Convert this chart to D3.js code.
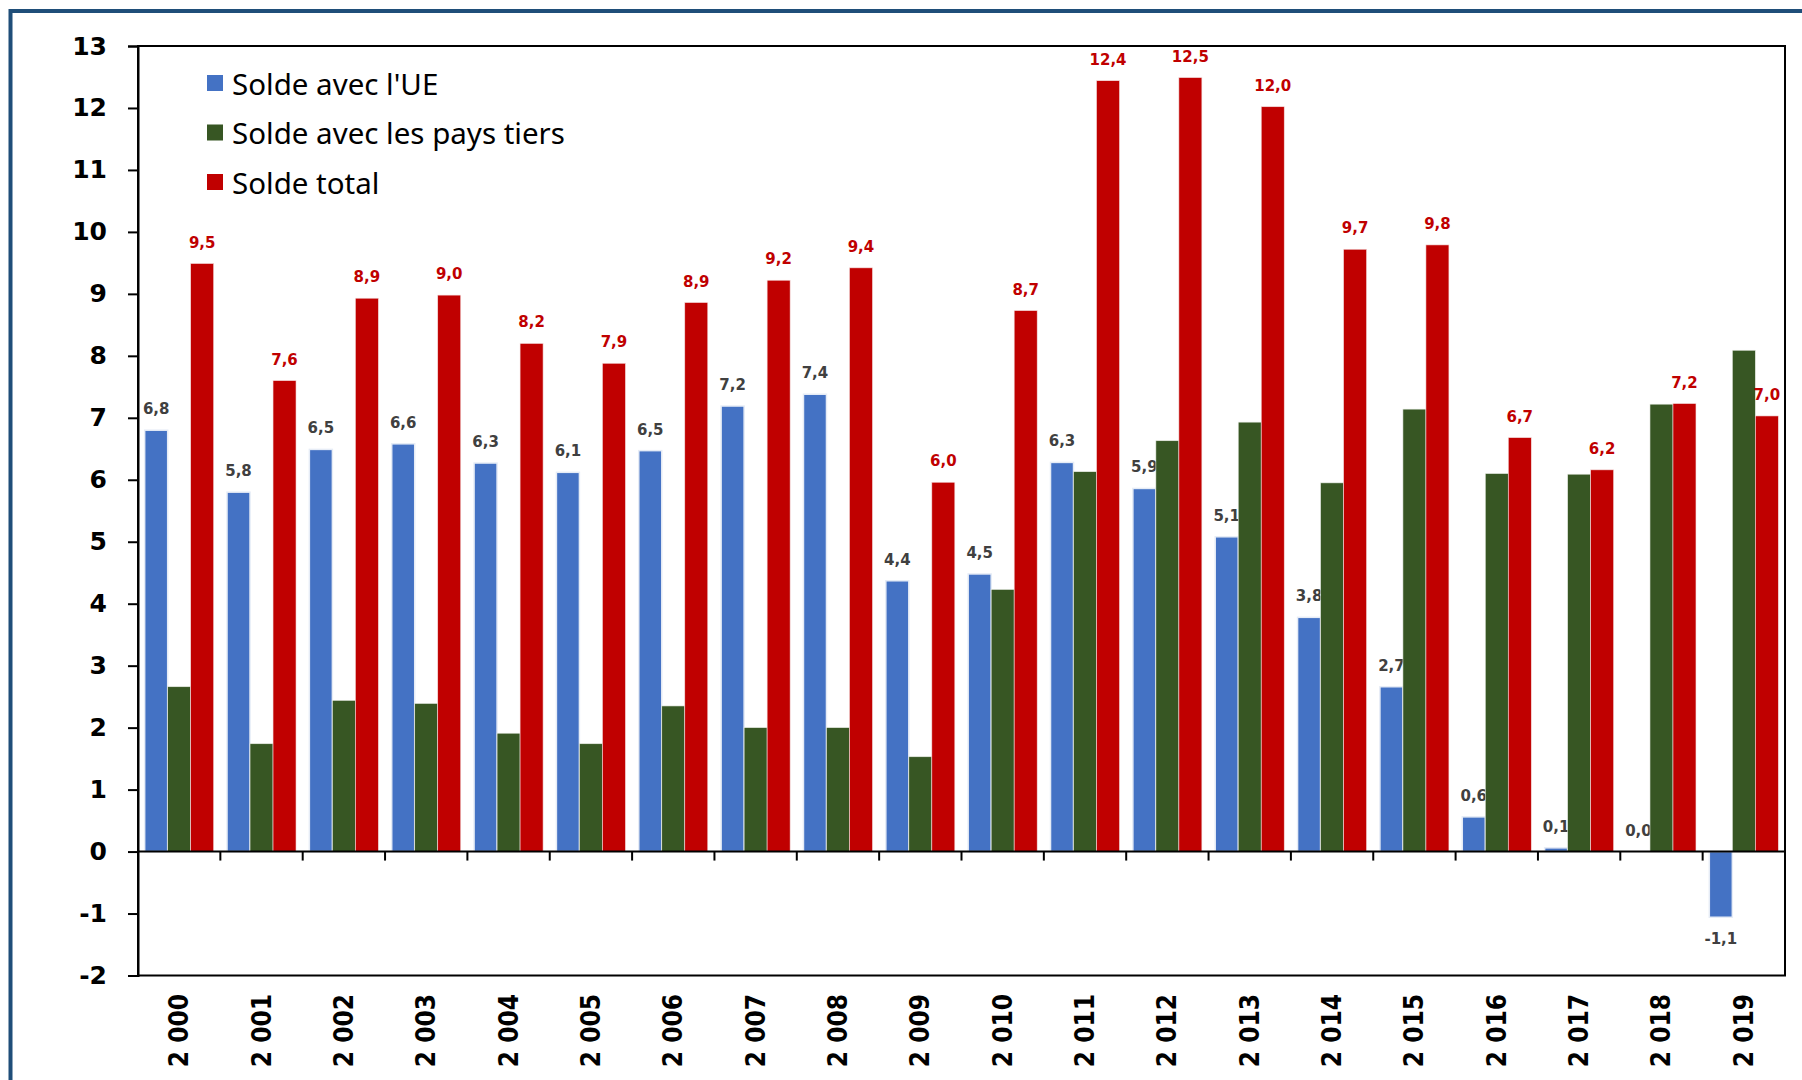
<!DOCTYPE html>
<html>
<head>
<meta charset="utf-8">
<script src="https://cdn.jsdelivr.net/npm/d3@7"></script>
<style>
  body { margin: 0; background: #fff; }
  svg { display: block; }
</style>
</head>
<body>
<div class="canvas"></div>
<script>
// years on the x axis
const years = [2000, 2001, 2002, 2003, 2004, 2005, 2006, 2007, 2008, 2009,
  2010, 2011, 2012, 2013, 2014, 2015, 2016, 2017, 2018, 2019];

// balance with the EU (blue)
const soldeUE = [6.8, 5.8, 6.49, 6.58, 6.27, 6.12, 6.47, 7.19, 7.38, 4.37,
  4.48, 6.28, 5.86, 5.08, 3.78, 2.66, 0.56, 0.06, 0.0, -1.06];

// balance with third countries (green)
const soldeTiers = [2.66, 1.74, 2.44, 2.39, 1.91, 1.74, 2.35, 2.0, 2.0, 1.53,
  4.23, 6.13, 6.63, 6.93, 5.95, 7.14, 6.1, 6.09, 7.22, 8.09];

// total balance (red)
const soldeTotal = [9.49, 7.6, 8.93, 8.98, 8.2, 7.88, 8.86, 9.22, 9.42, 5.96,
  8.73, 12.44, 12.49, 12.02, 9.72, 9.79, 6.68, 6.16, 7.23, 7.03];

// legend names
const seriesNames = ["Solde avec l'UE", "Solde avec les pays tiers", "Solde total"];

// y tick values
const yTicks = d3.range(-2, 14);

const colors = ['#4472c4', '#375623', '#c00000'];

// page and plot area
const dims = { width: 1802, height: 1080 };
const plot = { left: 138, right: 1785, top: 46, bottom: 975.5 };

const svg = d3.select('.canvas')
  .append('svg')
  .attr('width', dims.width)
  .attr('height', dims.height);

// blue frame around the slide (top and left edges)
svg.append('path')
  .attr('d', `M10.5,${dims.height} V11 H${dims.width}`)
  .attr('fill', 'none')
  .attr('stroke', '#1f4e79')
  .attr('stroke-width', 4);

// scales
const x = d3.scaleBand()
  .domain(years)
  .range([plot.left, plot.right])
  .padding(0);

const xSub = d3.scaleBand()
  .domain([0, 1, 2])
  .range([0, x.bandwidth()])
  .paddingInner(0)
  .paddingOuter(0.29);

const y = d3.scaleLinear()
  .domain([-2, 13])
  .range([plot.bottom, plot.top]);

const rows = years.map((yr, i) => ({
  year: yr,
  vals: [soldeUE[i], soldeTiers[i], soldeTotal[i]]
}));

const fmt = v => v.toFixed(1).replace('.', ',');
const fmtYear = d => d3.format(',')(d).replace(',', ' ');

// one group of bars per series
const drawBars = (s, stroke, sw) => {
  svg.append('g')
    .selectAll('rect')
    .data(rows)
    .enter()
    .append('rect')
    .attr('x', d => x(d.year) + xSub(s))
    .attr('width', xSub.bandwidth())
    .attr('y', d => y(Math.max(0, d.vals[s])))
    .attr('height', d => Math.abs(y(d.vals[s]) - y(0)))
    .attr('fill', colors[s])
    .attr('stroke', stroke)
    .attr('stroke-width', sw);
};

const drawLabels = (s, color) => {
  svg.append('g')
    .selectAll('text')
    .data(rows)
    .enter()
    .append('text')
    .attr('x', d => x(d.year) + xSub(s) + xSub.bandwidth() / 2)
    .attr('y', d => d.vals[s] < 0 ? y(d.vals[s]) + 22 : y(d.vals[s]) - 21)
    .attr('text-anchor', 'middle')
    .attr('dominant-baseline', 'central')
    .attr('font-family', 'DejaVu Sans')
    .attr('font-weight', 'bold')
    .attr('font-size', 15)
    .attr('fill', color)
    .text(d => fmt(d.vals[s]));
};

// blue labels sit under the following bars, like in the original
drawBars(0, '#e6ecf6', 1.5);
drawLabels(0, '#404040');
drawBars(1, '#e8ece4', 0.6);
drawBars(2, '#f4dede', 0.6);
drawLabels(2, '#c00000');

// plot frame
svg.append('rect')
  .attr('x', plot.left)
  .attr('y', plot.top)
  .attr('width', plot.right - plot.left)
  .attr('height', plot.bottom - plot.top)
  .attr('fill', 'none')
  .attr('stroke', '#000')
  .attr('stroke-width', 2);

// zero line
svg.append('line')
  .attr('x1', plot.left)
  .attr('x2', plot.right)
  .attr('y1', y(0))
  .attr('y2', y(0))
  .attr('stroke', '#000')
  .attr('stroke-width', 2);

// category boundary ticks under the zero line
svg.append('g')
  .selectAll('line')
  .data(years.slice(1))
  .enter()
  .append('line')
  .attr('x1', d => x(d))
  .attr('x2', d => x(d))
  .attr('y1', y(0))
  .attr('y2', y(0) + 9)
  .attr('stroke', '#000')
  .attr('stroke-width', 2);

// y axis
const yAxis = svg.append('g')
  .attr('transform', `translate(${plot.left},0)`)
  .call(d3.axisLeft(y).tickValues(yTicks).tickSize(10).tickPadding(21)
    .tickFormat(d => String(d)));

yAxis.select('.domain').attr('stroke-width', 2);
yAxis.selectAll('.tick line').attr('stroke-width', 2);
yAxis.selectAll('.tick text')
  .attr('font-family', 'DejaVu Sans')
  .attr('font-weight', 'bold')
  .attr('font-size', 25)
  .attr('fill', '#000');

// year labels, rotated
svg.append('g')
  .selectAll('text')
  .data(years)
  .enter()
  .append('text')
  .attr('transform', d => `translate(${x(d) + x.bandwidth() / 2}, 994) rotate(-90)`)
  .attr('text-anchor', 'end')
  .attr('dominant-baseline', 'central')
  .attr('font-family', "'DejaVu Sans Condensed', 'DejaVu Sans'")
  .attr('font-stretch', 'condensed')
  .attr('font-weight', 'bold')
  .attr('font-size', 26)
  .attr('fill', '#000')
  .text(fmtYear);

// legend
const legend = svg.append('g')
  .selectAll('g')
  .data(seriesNames)
  .enter()
  .append('g')
  .attr('transform', (d, i) => `translate(207, ${83 + i * 49.5})`);

legend.append('rect')
  .attr('x', 0)
  .attr('y', -8)
  .attr('width', 16)
  .attr('height', 16)
  .attr('fill', (d, i) => colors[i]);

legend.append('text')
  .attr('x', 25)
  .attr('y', 0)
  .attr('dominant-baseline', 'central')
  .attr('font-family', 'Noto Sans')
  .attr('font-size', 29.5)
  .attr('fill', '#000')
  .text(d => d);
</script>
</body>
</html>
